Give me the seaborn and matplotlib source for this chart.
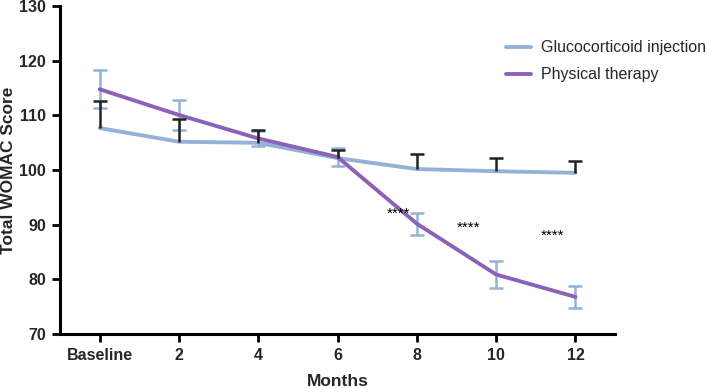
import numpy as np
import pandas as pd
import matplotlib
matplotlib.use('Agg')
import matplotlib.pyplot as plt
import seaborn as sns

months = [0, 2, 4, 6, 8, 10, 12]
tick_labels = ['Baseline', '2', '4', '6', '8', '10', '12']

gluco_mean = [107.7, 105.2, 105.0, 102.2, 100.2, 99.8, 99.5]
gluco_upper = [112.6, 109.3, 107.4, 103.6, 103.0, 102.3, 101.6]

pt_mean = [114.8, 110.1, 105.8, 102.4, 90.2, 80.9, 76.8]
pt_err = [3.5, 2.8, 1.3, 1.7, 2.0, 2.5, 2.0]

star_x = [7.55, 9.31, 11.43]
star_y = [92.0, 89.4, 88.0]

blue = '#94b1d6'
purple = '#8c62b8'

sns.set_style('white')
plt.rcParams['font.family'] = ['Liberation Sans', 'DejaVu Sans']

df = pd.DataFrame({
    'Months': months * 2,
    'Score': gluco_mean + pt_mean,
    'Group': ['Glucocorticoid injection'] * 7 + ['Physical therapy'] * 7,
})

fig = plt.figure(figsize=(7.09, 3.88), dpi=100)
ax = fig.add_axes([0.0846, 0.139, 0.783, 0.845])

sns.lineplot(data=df, x='Months', y='Score', hue='Group',
             palette=[blue, purple], linewidth=2.8, ax=ax, zorder=3)

# black one-sided bars for glucocorticoid (hide the lower cap)
g_up = np.array(gluco_upper) - np.array(gluco_mean)
_, caps, _ = ax.errorbar(months, gluco_mean, yerr=[np.zeros(7), g_up], fmt='none',
                         ecolor='#222222', elinewidth=1.8, capsize=5, capthick=1.8, zorder=4)
caps[0].set_visible(False)
# light blue two-sided bars for physical therapy
ax.errorbar(months, pt_mean, yerr=pt_err, fmt='none',
            ecolor=blue, elinewidth=1.8, capsize=5, capthick=1.8, zorder=2)

for x, y in zip(star_x, star_y):
    ax.text(x, y, '****', ha='center', va='center', fontsize=11, color='black')

ax.set_xlim(-1, 13)
ax.set_ylim(70, 130)
ax.set_xticks(months)
ax.set_xticklabels(tick_labels)
ax.set_yticks(range(70, 131, 10))
ax.set_xlabel('Months', fontsize=12.5, fontweight='bold', labelpad=8)
ax.set_ylabel('Total WOMAC Score', fontsize=12.5, fontweight='bold', labelpad=2)

for lab in ax.get_xticklabels() + ax.get_yticklabels():
    lab.set_fontweight('bold')
    lab.set_fontsize(11.5)

sns.despine(ax=ax)
for s in ['left', 'bottom']:
    ax.spines[s].set_linewidth(2.2)
    ax.spines[s].set_color('black')
ax.tick_params(axis='both', direction='out', length=6, width=2, color='black', pad=4,
               left=True, bottom=True)

leg = ax.legend(loc='upper left', bbox_to_anchor=(0.778, 0.94), frameon=False,
                fontsize=11.5, handlelength=1.55, handletextpad=0.63, labelspacing=0.75)
for line in leg.get_lines():
    line.set_linewidth(2.8)

fig.savefig('out.png', dpi=100)
